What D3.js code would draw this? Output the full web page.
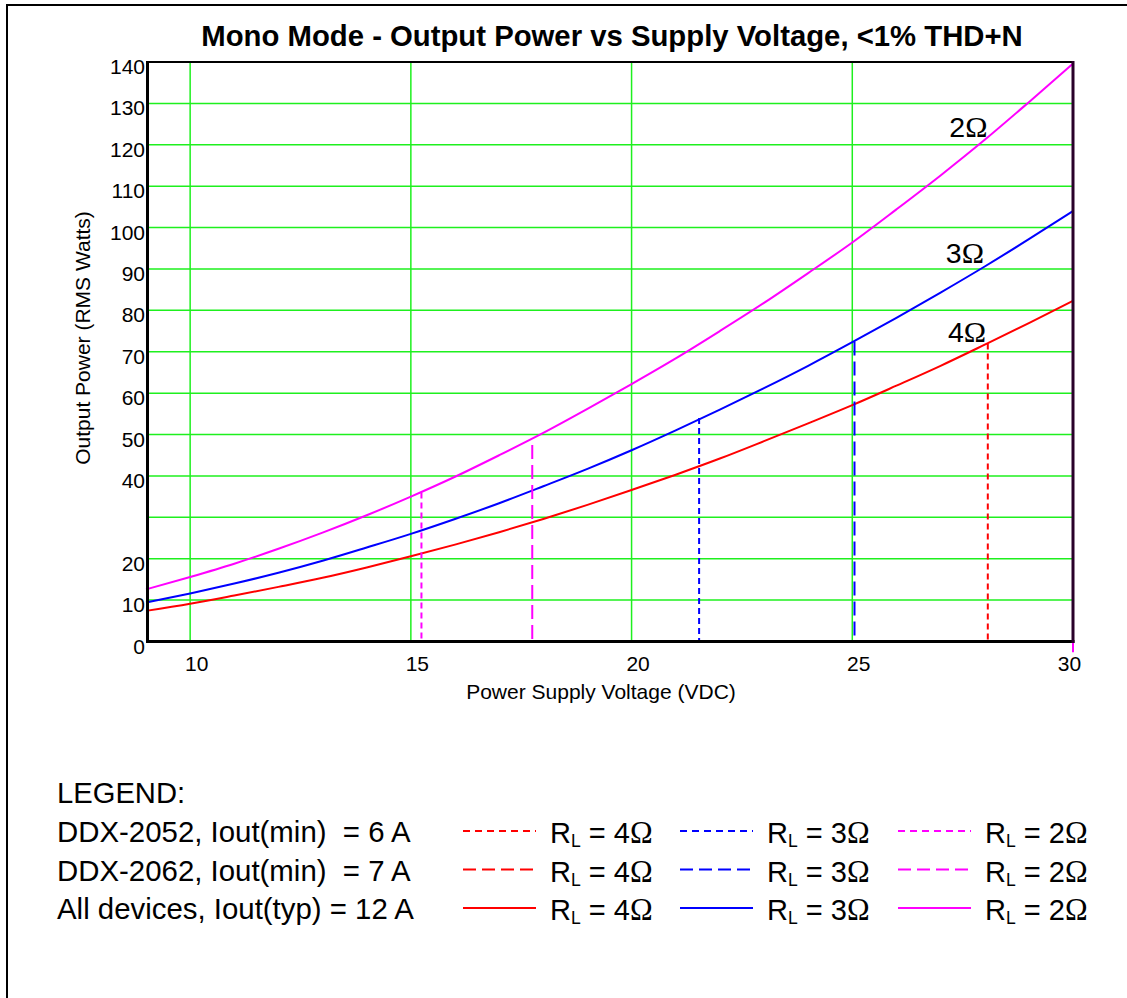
<!DOCTYPE html>
<html>
<head>
<meta charset="utf-8">
<script src="https://cdn.jsdelivr.net/npm/d3@7/dist/d3.min.js"></script>
<style>
  html, body { margin: 0; padding: 0; background: #fff; }
  svg { display: block; }
  text { font-family: "Liberation Sans", Arial, sans-serif; fill: #000; }
</style>
</head>
<body>
<svg id="chart" width="1127" height="998"></svg>
<script>
(function () {
// ---------------- DATA ----------------
const title = "Mono Mode - Output Power vs Supply Voltage, <1% THD+N";
const xTitle = "Power Supply Voltage (VDC)";
const yTitle = "Output Power (RMS Watts)";

const voltage = [9, 10, 11, 12, 13, 14, 15, 16, 17, 18, 19, 20, 21, 22, 23, 24, 25, 26, 27, 28, 29, 30];
const power4 = [7.4, 9.1, 11.1, 13.2, 15.4, 17.9, 20.6, 23.4, 26.4, 29.6, 33.0, 36.6, 40.3, 44.2, 48.4, 52.7, 57.1, 61.8, 66.6, 71.7, 76.9, 82.3];
const power3 = [9.4, 11.6, 14.0, 16.6, 19.5, 22.7, 26.0, 29.6, 33.4, 37.5, 41.7, 46.2, 51.0, 56.0, 61.2, 66.6, 72.3, 78.2, 84.3, 90.6, 97.2, 104.0];
const power2 = [12.6, 15.6, 18.8, 22.4, 26.3, 30.5, 35.0, 39.8, 45.0, 50.4, 56.2, 62.2, 68.4, 75.0, 81.8, 89.0, 96.4, 104.4, 112.6, 121.2, 130.3, 139.6];

const xTickValues = [10, 15, 20, 25, 30];
const yTickValues = [0, 10, 20, 40, 50, 60, 70, 80, 90, 100, 110, 120, 130, 140];
const yGridValues = [10, 20, 30, 40, 50, 60, 70, 80, 90, 100, 110, 120, 130];
const xGridValues = [10, 15, 20, 25];

// current-limit markers: device, load, voltage, power at curve
const limitDevice = ["6A", "6A", "6A", "7A", "7A", "12A"];
const limitLoad   = [4, 3, 2, 3, 2, 2];
const limitVolt   = [28.07, 21.53, 15.24, 25.05, 17.75, 30];
const limitPower  = [72, 54, 36, 72.5, 47.5, 140];
const limitBottom = [0, 0, 0, 0, 0, -2.6];

const curveLabels = ["2", "3", "4"];
const curveLabelV = [27.63, 27.55, 27.6];
const curveLabelP = [121.9, 91.4, 72.4];

const legendHeader = "LEGEND:";
const legendRows = ["DDX-2052, Iout(min)  = 6 A", "DDX-2062, Iout(min)  = 7 A", "All devices, Iout(typ) = 12 A"];
const legendLoads = ["4", "3", "2"];
const devices = ["6A", "7A", "12A"];

// ---------------- STYLE ----------------
const colorOf = {4: "#ff0000", 3: "#0000ff", 2: "#ff00ff"};
const dashOf = {"6A": "6,4", "7A": "14,6", "12A": null};
const legendDashOf = {"6A": "7,5", "7A": "13,6", "12A": null};

const svg = d3.select("#chart");

// outer border
svg.append("rect").attr("x", 7).attr("y", 5).attr("width", 1130).attr("height", 1000)
  .attr("fill", "none").attr("stroke", "#000").attr("stroke-width", 2);

const pL = 147.5, pR = 1073, pT = 62, pB = 641.5;
const x = d3.scaleLinear().domain([9, 30]).range([146, 1073]);
const y = d3.scaleLinear().domain([0, 140]).range([pB, pT]);

// title
svg.append("text").attr("x", 612).attr("y", 46).attr("text-anchor", "middle")
  .attr("font-size", 29.3).attr("font-weight", "bold").text(title);

// grid
const grid = svg.append("g").attr("stroke", "#1ef01e").attr("stroke-width", 1.5);
grid.selectAll("line.h").data(yGridValues).join("line").attr("class", "h")
  .attr("x1", pL).attr("x2", pR).attr("y1", d => y(d)).attr("y2", d => y(d));
grid.selectAll("line.v").data(xGridValues).join("line").attr("class", "v")
  .attr("x1", d => x(d)).attr("x2", d => x(d)).attr("y1", pT).attr("y2", pB);

// curves
const series = [{r: 4, p: power4}, {r: 3, p: power3}, {r: 2, p: power2}];
const line = d3.line().x(d => x(d[0])).y(d => y(d[1])).curve(d3.curveMonotoneX);
svg.append("g").selectAll("path").data(series).join("path")
  .attr("d", s => line(voltage.map((v, i) => [v, s.p[i]])))
  .attr("fill", "none").attr("stroke", s => colorOf[s.r]).attr("stroke-width", 2);

// limit markers
svg.append("g").selectAll("line").data(limitVolt.map((v, i) => i)).join("line")
  .attr("x1", i => x(limitVolt[i])).attr("x2", i => x(limitVolt[i]))
  .attr("y1", i => y(limitPower[i])).attr("y2", i => y(limitBottom[i]))
  .attr("stroke", i => colorOf[limitLoad[i]]).attr("stroke-width", 2)
  .attr("stroke-dasharray", i => dashOf[limitDevice[i]]);

// frame
const frame = svg.append("g").attr("fill", "none");
frame.append("line").attr("x1", pL - 1).attr("x2", pR + 1).attr("y1", pT).attr("y2", pT)
  .attr("stroke", "#000").attr("stroke-width", 2);
frame.append("line").attr("x1", pL).attr("x2", pL).attr("y1", pT - 1).attr("y2", pB + 1.5)
  .attr("stroke", "#000").attr("stroke-width", 3);
frame.append("line").attr("x1", pL - 1.5).attr("x2", pR + 1.5).attr("y1", pB).attr("y2", pB)
  .attr("stroke", "#000").attr("stroke-width", 3);
frame.append("line").attr("x1", pR).attr("x2", pR).attr("y1", pT - 1).attr("y2", pB + 1.5)
  .attr("stroke", "#2a002a").attr("stroke-width", 3);

// axes labels via d3 axes
const xAxis = svg.append("g").attr("transform", `translate(0,${pB})`)
  .call(d3.axisBottom(x).tickValues(xTickValues).tickSize(0).tickPadding(15).tickFormat(d3.format("d")));
xAxis.select(".domain").remove();
xAxis.selectAll("text").attr("font-size", 21).attr("fill", "#000")
  .attr("font-family", "Liberation Sans, Arial, sans-serif")
  .attr("dx", d => d === 30 ? -4 : 6);

const yAxis = svg.append("g").attr("transform", `translate(${pL},0)`)
  .call(d3.axisLeft(y).tickValues(yTickValues).tickSize(0).tickPadding(2.5).tickFormat(d3.format("d")));
yAxis.select(".domain").remove();
yAxis.selectAll("text").attr("font-size", 21).attr("fill", "#000")
  .attr("font-family", "Liberation Sans, Arial, sans-serif")
  .attr("dy", "0.55em");

// axis titles
svg.append("text").attr("x", 601).attr("y", 699).attr("text-anchor", "middle")
  .attr("font-size", 21).text(xTitle);
svg.append("text").attr("transform", "translate(90,338) rotate(-90)").attr("text-anchor", "middle")
  .attr("font-size", 21).text(yTitle);

// curve labels
const cl = svg.append("g").selectAll("text").data(curveLabels).join("text")
  .attr("x", (d, i) => x(curveLabelV[i])).attr("y", (d, i) => y(curveLabelP[i]))
  .attr("font-size", 28.5).attr("text-anchor", "middle");
cl.append("tspan").text(d => d);
cl.append("tspan").attr("font-family", "Liberation Serif, serif").attr("font-size", 30).text("Ω");

// legend
svg.append("text").attr("x", 57).attr("y", 803).attr("font-size", 29.2).text(legendHeader);
const rowY = [842, 880.5, 919];
svg.append("g").selectAll("text").data(legendRows).join("text")
  .attr("x", 57).attr("y", (d, i) => rowY[i]).attr("font-size", 29.4)
  .style("white-space", "pre").text(d => d);

const colX = [463, 680, 898];
const lg = svg.append("g");
devices.forEach((dev, ri) => {
  legendLoads.forEach((ld, ci) => {
    const yy = rowY[ri] - 11;
    lg.append("line").attr("x1", colX[ci]).attr("x2", colX[ci] + 73)
      .attr("y1", yy).attr("y2", yy)
      .attr("stroke", colorOf[+ld]).attr("stroke-width", 2)
      .attr("stroke-dasharray", legendDashOf[dev]);
    const t = lg.append("text").attr("x", colX[ci] + 87).attr("y", rowY[ri] + 1).attr("font-size", 29);
    t.append("tspan").text("R");
    t.append("tspan").attr("font-size", 17.5).attr("dy", 4).text("L");
    t.append("tspan").attr("dy", -4).text(" = " + ld);
    t.append("tspan").attr("font-family", "Liberation Serif, serif").attr("font-size", 30.5).text("Ω");
  });
});
})();
</script>
</body>
</html>
